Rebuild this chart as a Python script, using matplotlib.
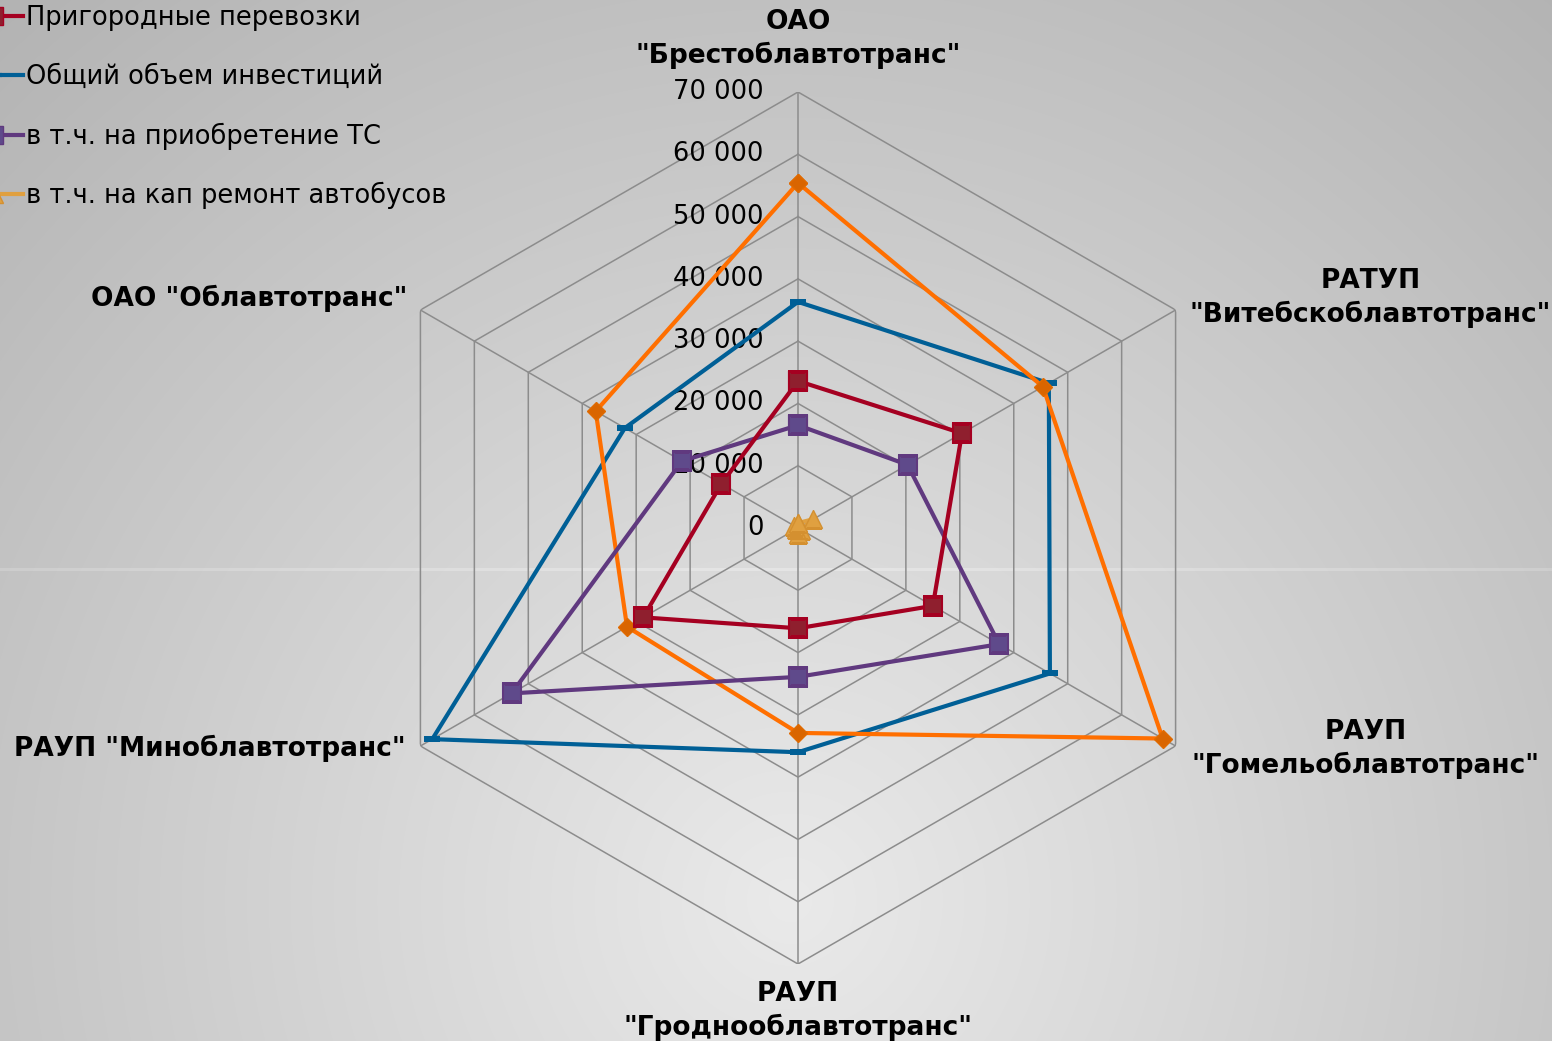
import numpy as np
import matplotlib
matplotlib.use("Agg")
import matplotlib.pyplot as plt
from matplotlib.lines import Line2D

plt.rcParams['font.family'] = ['DejaVu Sans']

categories = ['ОАО\n"Брестоблавтотранс"', 'РАТУП\n"Витебскоблавтотранс"',
              'РАУП\n"Гомельоблавтотранс"', 'РАУП\n"Гроднооблавтотранс"',
              'РАУП "Миноблавтотранс"', 'ОАО "Облавтотранс"']
ticks = [0, 10000, 20000, 30000, 40000, 50000, 60000, 70000]
tick_labels = ['0', '10 000', '20 000', '30 000', '40 000', '50 000', '60 000', '70 000']

orange_vals = [55400, 45400, 67600, 32900, 31700, 37500]
prigorod = [23600, 30400, 25000, 16100, 28700, 14200]
total_invest = [36300, 46500, 46700, 36000, 67800, 32100]
purchase_ts = [16500, 20300, 37300, 23900, 53100, 21500]
kap_remont = [800, 2800, 600, 900, 400, 700]

labels = ['Пригородные перевозки', 'Общий объем инвестиций',
          'в т.ч. на приобретение ТС', 'в т.ч. на кап ремонт автобусов']

W, H = 1552, 1041
fig = plt.figure(figsize=(W / 100, H / 100), dpi=100)

# background gradient
bg = fig.add_axes([0, 0, 1, 1], zorder=-10)
yy, xx = np.mgrid[0:H, 0:W]
d = np.hypot(xx - 790, (yy - 900) * 1.0)
v = 234 - 0.046 * d
v = np.clip(v, 170, 240)
v[568:571, :] = np.minimum(v[568:571, :] + 10, 245)
img = np.dstack([v, v, v]) / 255.0
bg.imshow(img, aspect='auto', extent=[0, W, H, 0])
bg.set_axis_off()

cx, cy, R = 798, 528, 436
ax = fig.add_axes([(cx - R) / W, (H - cy - R) / H, 2 * R / W, 2 * R / H],
                  projection='polar')
ax.set_facecolor('none')
ax.set_theta_zero_location('N')
ax.set_theta_direction(-1)
ax.set_ylim(0, 70000)
ax.grid(False)
ax.spines['polar'].set_visible(False)
ax.set_xticks([])
ax.set_yticks([])

n = len(categories)
theta = np.arange(n) * 2 * np.pi / n
theta_c = np.append(theta, theta[0])

grid_col = '#8c8c8c'
for t in ticks[1:]:
    ax.plot(theta_c, [t] * (n + 1), color=grid_col, lw=1.1, zorder=1)
for th in theta:
    ax.plot([th, th], [0, ticks[-1]], color=grid_col, lw=1.1, zorder=1)

# tick labels
for t, lab in zip(ticks, tick_labels):
    ax.annotate(lab, xy=(0, t), xytext=(-25, 0), textcoords='offset points',
                ha='right', va='center', fontsize=18.5, color='black',
                annotation_clip=False, zorder=2)

def closed(vals):
    return list(vals) + [vals[0]]

ax.plot(theta_c, closed(total_invest), color='#005f96', lw=3, marker='_',
        ms=12, mew=3, zorder=4)
ax.plot(theta_c, closed(orange_vals), color='#ff6f00', lw=3, marker='D',
        ms=9, mfc='#d96500', mec='#e06a00', zorder=5)
ax.plot(theta_c, closed(purchase_ts), color='#60397f', lw=3, marker='s',
        ms=13, mfc='#5f4a8b', mec='#60397f', mew=1.5, zorder=6)
ax.plot(theta_c, closed(prigorod), color='#a50021', lw=3, marker='s',
        ms=13, mfc='#8f1f2e', mec='#a50021', mew=1.5, zorder=7)
ax.plot(theta_c, closed(kap_remont), color='#e0a040', lw=3, marker='^',
        ms=13, mfc='#e0a040', mec='#d49030', zorder=8)

# category labels
offsets = [(0, 53, 'center', 'center'),
           (14, 12, 'left', 'center'),
           (16, -3, 'left', 'center'),
           (0, -47, 'center', 'center'),
           (-15, -2, 'right', 'center'),
           (-13, 12, 'right', 'center')]
for th, lab, (dx, dy, ha, va) in zip(theta, categories, offsets):
    ax.annotate(lab, xy=(th, ticks[-1]), xytext=(dx * 0.72, dy * 0.72),
                textcoords='offset points', ha=ha, va=va, multialignment='center',
                fontsize=19, fontweight='bold', linespacing=1.3,
                annotation_clip=False)

handles = [
    Line2D([], [], color='#a50021', lw=3, marker='s', ms=13, mfc='#8f1f2e', mec='#a50021'),
    Line2D([], [], color='#005f96', lw=3, marker='_', ms=12, mew=3),
    Line2D([], [], color='#60397f', lw=3, marker='s', ms=13, mfc='#5f4a8b', mec='#60397f'),
    Line2D([], [], color='#e0a040', lw=3, marker='^', ms=13, mfc='#e0a040', mec='#d49030'),
]
fig.legend(handles, labels, loc='upper left', bbox_to_anchor=(-36 / W, 1 - 5 / H),
           frameon=False, fontsize=18.5, handlelength=2.3, handletextpad=0.1,
           labelspacing=1.27, borderpad=0, borderaxespad=0)

fig.savefig('out.png', dpi=100)
